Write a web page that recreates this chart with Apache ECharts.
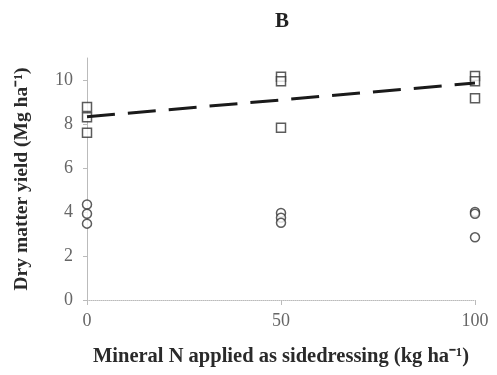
<!DOCTYPE html>
<html>
<head>
<meta charset="utf-8">
<script src="https://cdn.jsdelivr.net/npm/echarts@6/dist/echarts.min.js"></script>
<style>
  html, body { margin: 0; padding: 0; background: #fff; }
  #chart { width: 497px; height: 375px; }
</style>
</head>
<body>
<div id="chart"></div>
<script>
// N rate (kg/ha) and yields
const squareX = [0, 0, 0, 50, 50, 50, 100, 100, 100];
const squareY = [8.77, 8.31, 7.6, 10.15, 9.94, 7.83, 10.18, 9.94, 9.17];
const circleX = [0, 0, 0, 50, 50, 50, 100, 100, 100];
const circleY = [4.34, 3.92, 3.47, 3.96, 3.74, 3.51, 4.0, 3.92, 2.85];
// fitted trend line endpoints
const trendX = [0, 100];
const trendY = [8.33, 9.86];

const font = '"Liberation Serif", "Times New Roman", serif';
const pairs = (xs, ys) => xs.map((x, i) => [x, ys[i]]);

const myChart = echarts.init(document.getElementById('chart'));
myChart.setOption({
    animation: false,
    title: {
        text: 'B',
        left: 270,
        top: 6,
        textStyle: { fontFamily: font, fontWeight: 'bold', fontSize: 21, color: '#222' }
    },
    grid: { left: 87, right: 22, top: 58, bottom: 75 },
    xAxis: {
        type: 'value',
        min: 0,
        max: 100,
        interval: 50,
        name: 'Mineral N applied as sidedressing (kg ha⁻¹)',
        nameLocation: 'middle',
        nameGap: 46,
        nameTextStyle: { fontFamily: font, fontWeight: 'bold', fontSize: 20.5, color: '#2a2a2a' },
        axisLine: { lineStyle: { color: '#bbb', type: 'dotted', width: 1 } },
        axisTick: { show: true, length: 5, lineStyle: { color: '#bbb' } },
        axisLabel: { fontFamily: font, fontSize: 18, color: '#666', margin: 12 },
        splitLine: { show: false }
    },
    yAxis: {
        type: 'value',
        min: 0,
        max: 11,
        interval: 2,
        name: 'Dry matter yield (Mg ha⁻¹)',
        nameLocation: 'middle',
        nameGap: 55,
        nameTextStyle: { fontFamily: font, fontWeight: 'bold', fontSize: 19.5, color: '#2a2a2a' },
        axisLine: { show: true, lineStyle: { color: '#bbb', width: 1 } },
        axisTick: { show: true, length: 4, lineStyle: { color: '#bbb' } },
        axisLabel: {
            fontFamily: font, fontSize: 18, color: '#666', margin: 14,
            showMaxLabel: false
        },
        splitLine: { show: false }
    },
    series: [
        {
            type: 'scatter',
            data: pairs(squareX, squareY),
            symbol: 'rect',
            symbolSize: 9,
            itemStyle: { color: '#fff', borderColor: '#333', borderWidth: 1.5 },
            z: 3
        },
        {
            type: 'scatter',
            data: pairs(circleX, circleY),
            symbol: 'circle',
            symbolSize: 9,
            itemStyle: { color: '#fff', borderColor: '#333', borderWidth: 1.5 },
            z: 3
        },
        {
            type: 'line',
            data: pairs(trendX, trendY),
            showSymbol: false,
            lineStyle: { color: '#1a1a1a', width: 3, type: [28, 13] },
            z: 4
        }
    ]
});
</script>
</body>
</html>
